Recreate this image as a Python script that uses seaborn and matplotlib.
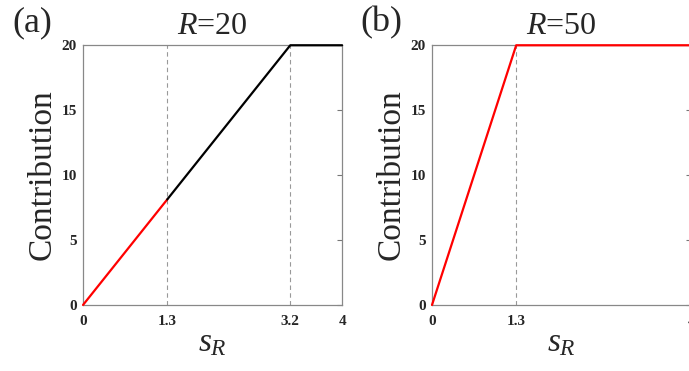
#!/usr/bin/env python3

import pandas as pd
import matplotlib.pyplot as plt
import seaborn as sns

# panel (a): R=20
sr_a_red = [0, 1.3]
contrib_a_red = [0, 8.125]
sr_a_black = [1.3, 3.2, 4]
contrib_a_black = [8.125, 20, 20]
guides_a = [1.3, 3.2]
xticks_a = [0, 1.3, 3.2, 4]

# panel (b): R=50
sr_b = [0, 1.3, 4]
contrib_b = [0, 20, 20]
guides_b = [1.3]
xticks_b = [0, 1.3, 4]

yticks = [0, 5, 10, 15, 20]

sns.set_style("white")
plt.rcParams['font.family'] = ['Liberation Serif', 'DejaVu Serif']
plt.rcParams['mathtext.fontset'] = 'custom'
plt.rcParams['mathtext.rm'] = 'Liberation Serif'
plt.rcParams['mathtext.it'] = 'Liberation Serif:italic'

fig = plt.figure(figsize=(6.89, 3.71), dpi=100)
ax_a = fig.add_axes([0.1205, 0.178, 0.376, 0.70])
ax_b = fig.add_axes([0.627, 0.178, 0.376, 0.70])


def style_panel(ax, xticks, guides, letter, title):
    for g in guides:
        ax.plot([g, g], [0, 20], color='#999999', lw=0.8, ls=(0, (4, 3)), zorder=1)
    ax.set_xlim(0, 4)
    ax.set_ylim(0, 20)
    ax.set_xticks(xticks)
    ax.set_xticklabels([f"{t:g}" for t in xticks], fontweight='bold', fontsize=11)
    ax.set_yticks(yticks)
    ax.set_yticklabels([str(t) for t in yticks], fontweight='bold', fontsize=11)
    ax.tick_params(direction='in', length=3.5, width=0.8, color='#777777',
                   right=True, top=False)
    ax.tick_params(axis='x', pad=7)
    ax.tick_params(axis='y', pad=4.5)
    for sp in ax.spines.values():
        sp.set_color('#888888')
        sp.set_linewidth(0.9)
    ax.set_xlabel('$s_R$', fontsize=24, labelpad=0)
    ax.set_ylabel('Contribution', fontsize=24, labelpad=3)
    ax.set_title(title, fontsize=23, pad=8)
    ax.text(-0.197, 1.088, letter, transform=ax.transAxes, fontsize=26,
            ha='center', va='center')


sns.lineplot(data=pd.DataFrame({'sr': sr_a_red, 'c': contrib_a_red}), x='sr', y='c',
             ax=ax_a, color='red', lw=1.6, clip_on=False, zorder=3)
sns.lineplot(data=pd.DataFrame({'sr': sr_a_black, 'c': contrib_a_black}), x='sr', y='c',
             ax=ax_a, color='black', lw=1.6, clip_on=False, zorder=3)
sns.lineplot(data=pd.DataFrame({'sr': sr_b, 'c': contrib_b}), x='sr', y='c',
             ax=ax_b, color='red', lw=1.6, clip_on=False, zorder=3)

style_panel(ax_a, xticks_a, guides_a, '(a)', '$R$=20')
style_panel(ax_b, xticks_b, guides_b, '(b)', '$R$=50')

fig.savefig('out.png', dpi=100)
